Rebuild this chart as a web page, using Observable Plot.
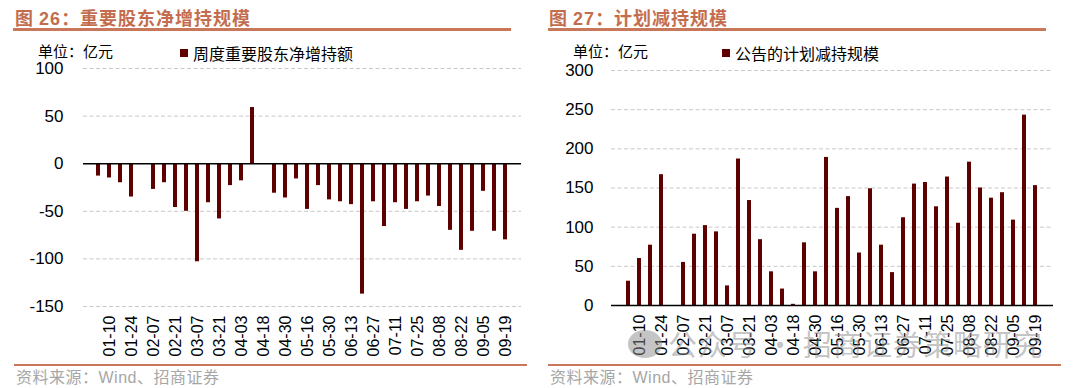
<!DOCTYPE html>
<html>
<head>
<meta charset="utf-8">
<script src="https://cdn.jsdelivr.net/npm/d3@7"></script>
<script src="https://cdn.jsdelivr.net/npm/@observablehq/plot@0.6"></script>
<style>
  html, body { margin: 0; padding: 0; background: #fff; }
  #root { position: relative; width: 1080px; height: 388px; overflow: hidden; font-family: "Noto Sans CJK SC", sans-serif; }
  .title { position: absolute; top: 4px; font-size: 18px; font-weight: bold; color: #c46d4e; white-space: nowrap; letter-spacing: 1px; }
  .title .num { font-family: "Liberation Sans", Arial, sans-serif; }
  .rule { position: absolute; height: 3px; background: #c9775a; }
  .unit { position: absolute; top: 40px; font-size: 15px; color: #000; white-space: nowrap; }
  .legend { position: absolute; top: 41px; font-size: 16px; color: #000; white-space: nowrap; display: flex; align-items: center; }
  .legend .sw { width: 8px; height: 8px; background: #5e0000; margin-right: 5px; display: inline-block; }
  .src { position: absolute; top: 367px; font-size: 16px; line-height: 18px; color: #a6a6a6; white-space: nowrap; letter-spacing: 0.5px; }
  .src .num { font-family: "Liberation Sans", Arial, sans-serif; }
  .chart { position: absolute; top: 58px; }
  .wm { position: absolute; top: 326px; left: 668px; font-size: 29px; color: rgba(140,140,140,0.5); white-space: nowrap; letter-spacing: 1px; line-height: 34px; }
  .wmicon { position: absolute; top: 330px; left: 628px; width: 34px; height: 28px; border-radius: 50%; background: rgba(140,140,140,0.5); }
</style>
</head>
<body>
<div id="root">
  <div class="title" style="left:15px;">图 <span class="num">26</span>：重要股东净增持规模</div>
  <div class="rule" style="left:13px; width:498px; top:28px;"></div>
  <div class="title" style="left:549px;">图 <span class="num">27</span>：计划减持规模</div>
  <div class="rule" style="left:548px; width:498px; top:28px;"></div>

  <div class="unit" style="left:38px;">单位：亿元</div>
  <div class="legend" style="left:180px;"><span class="sw"></span>周度重要股东净增持额</div>
  <div class="unit" style="left:573px;">单位：亿元</div>
  <div class="legend" style="left:722px;"><span class="sw"></span>公告的计划减持规模</div>

  <div class="chart" id="left" style="left:0px;"></div>
  <div class="chart" id="right" style="left:540px;"></div>

  <div class="wmicon"></div>
  <div class="wm">公众号 · 招商证券策略研究</div>

  <div class="rule" style="left:14px; width:513px; top:364px; height:2px;"></div>
  <div class="rule" style="left:548px; width:513px; top:364px; height:2px;"></div>
  <div class="src" style="left:16px;">资料来源：<span class="num">Wind</span>、招商证券</div>
  <div class="src" style="left:550px;">资料来源：<span class="num">Wind</span>、招商证券</div>
</div>
<script>
// Weekly categories (first week unlabeled in the original)
const weeks = ["01-03","01-10","01-17","01-24","01-31","02-07","02-14","02-21","02-28","03-07",
  "03-14","03-21","03-28","04-03","04-11","04-18","04-25","04-30","05-09","05-16",
  "05-23","05-30","06-06","06-13","06-20","06-27","07-04","07-11","07-18","07-25",
  "08-01","08-08","08-15","08-22","08-29","09-05","09-12","09-19"];

// Tick labels shown on the x axis
const tickLabels = ["01-10","01-24","02-07","02-21","03-07","03-21","04-03","04-18","04-30",
  "05-16","05-30","06-13","06-27","07-11","07-25","08-08","08-22","09-05","09-19"];

// 周度重要股东净增持额 (亿元)
const netIncrease = [-13,-15,-20,-35,0,-27,-20,-46,-50,-103,-41,-58,-23,-18,59,0,-31,-36,-16,-48,
  -23,-38,-40,-43,-137,-40,-66,-41,-48,-40,-34,-45,-70,-91,-71,-29,-71,-80];

// 公告的计划减持规模 (亿元)
const plannedReduction = [31,60,77,167,0,55,91,102,94,25,187,134,84,43,21,1.5,80,43,189,124,
  139,67,149,77,42,112,155,157,126,164,105,183,150,137,144,109,243,153];

const leftTicks = [-150,-100,-50,0,50,100];
const rightTicks = [0,50,100,150,200,250,300];

const barColor = "#5e0000";
const gridColor = "#c8c8c8";

function makeChart(values, yDomain, yTicks, opts) {
  const data = weeks.map((w, i) => ({week: w, value: values[i]}));
  return Plot.plot({
    width: 540,
    height: 300,
    marginLeft: opts.marginLeft,
    marginRight: opts.marginRight,
    marginTop: opts.marginTop,
    marginBottom: opts.marginBottom,
    style: {fontFamily: "'Liberation Sans', Arial, sans-serif", fontSize: "16px", color: "#000", background: "transparent"},
    x: {type: "band", domain: weeks, padding: 0.63, label: null},
    y: {domain: yDomain, label: null},
    marks: [
      Plot.ruleY(yTicks.filter(t => t !== 0), {stroke: gridColor, strokeWidth: 1, strokeDasharray: "4,2.5"}),
      Plot.barY(data, {x: "week", y: "value", fill: barColor}),
      Plot.ruleY([0], {stroke: "#000", strokeWidth: 1.4}),
      Plot.axisY({ticks: yTicks, tickSize: 0, tickPadding: opts.yPad, fontSize: 17, tickFormat: d => String(d), label: null}),
      Plot.axisX({ticks: tickLabels, tickSize: 0, tickRotate: -90, tickPadding: 9, fontSize: 16, label: null})
    ]
  });
}

document.getElementById("left").appendChild(
  makeChart(netIncrease, [-150, 100], leftTicks, {marginLeft: 83, marginRight: 19, marginTop: 10, marginBottom: 52, yPad: 20})
);
document.getElementById("right").appendChild(
  makeChart(plannedReduction, [0, 300], rightTicks, {marginLeft: 71, marginRight: 27, marginTop: 12, marginBottom: 53, yPad: 18})
);
</script>
</body>
</html>
